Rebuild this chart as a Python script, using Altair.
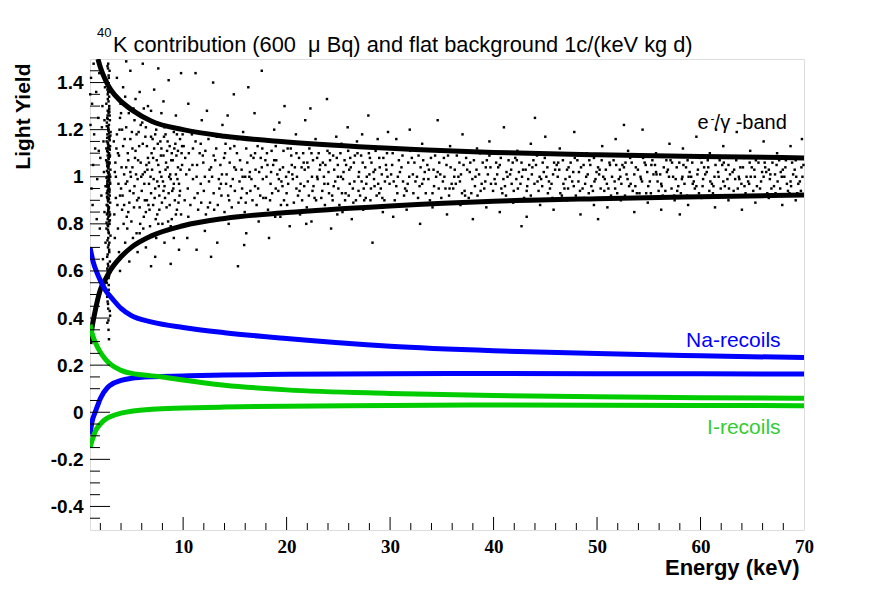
import altair as alt
import pandas as pd

# ---------------- band / recoil curves ----------------
eg_up_x = [1.77, 2, 2.5, 3, 4, 5, 7, 10, 14, 20, 30, 40, 50, 60, 70]
eg_up_y = [1.50, 1.465, 1.41, 1.37, 1.32, 1.285, 1.235, 1.200, 1.172, 1.148, 1.121, 1.103, 1.093, 1.086, 1.080]
eg_lo_x = [1.0, 1.2, 1.5, 2, 2.5, 3, 4, 5, 7, 10, 14, 20, 30, 40, 50, 60, 70]
eg_lo_y = [0.29, 0.36, 0.43, 0.52, 0.565, 0.605, 0.66, 0.70, 0.75, 0.792, 0.823, 0.848, 0.876, 0.896, 0.907, 0.915, 0.922]
na_up_x = [1.0, 1.3, 1.7, 2, 2.7, 3, 4, 5, 7, 10, 14, 20, 30, 40, 50, 60, 70]
na_up_y = [0.70, 0.64, 0.59, 0.56, 0.505, 0.49, 0.441, 0.41, 0.383, 0.360, 0.338, 0.313, 0.280, 0.261, 0.249, 0.240, 0.232]
na_lo_x = [1.0, 1.2, 1.5, 1.75, 2, 2.7, 3, 4, 5, 7, 10, 14, 20, 30, 40, 50, 60, 70]
na_lo_y = [-0.095, -0.04, 0.0, 0.03, 0.058, 0.105, 0.116, 0.135, 0.144, 0.151, 0.154, 0.158, 0.161, 0.164, 0.165, 0.164, 0.163, 0.162]
i_up_x = [1.0, 1.2, 1.5, 2, 2.5, 3, 4, 5, 6, 8, 10, 14, 20, 30, 40, 50, 60, 70]
i_up_y = [0.372, 0.335, 0.298, 0.255, 0.225, 0.203, 0.178, 0.165, 0.159, 0.150, 0.137, 0.115, 0.095, 0.080, 0.071, 0.066, 0.062, 0.059]
i_lo_x = [1.0, 1.2, 1.58, 2, 2.4, 3, 4, 5, 7, 10, 14, 20, 30, 40, 50, 60, 70]
i_lo_y = [-0.15, -0.12, -0.075, -0.05, -0.033, -0.018, -0.004, 0.004, 0.013, 0.018, 0.022, 0.026, 0.029, 0.031, 0.030, 0.029, 0.028]

curve_names = ["eg_up", "eg_lo", "na_up", "na_lo", "i_up", "i_lo"]
curve_colors = ["#000000", "#000000", "#0000ff", "#0000ff", "#00cc00", "#00cc00"]

# ---------------- scatter events ----------------
strip_pts = [
    (2.76, 1.48), (2.89, 1.45), (2.65, 1.41), (2.81, 1.38), (2.96, 1.36), (2.72, 1.33), (2.58, 1.31), (2.85, 1.29), (2.79, 1.27), (2.70, 1.26),
    (2.92, 1.24), (2.63, 1.23), (2.83, 1.22), (2.75, 1.21), (2.99, 1.19), (2.68, 1.18), (2.80, 1.17), (2.87, 1.16), (2.61, 1.15), (2.73, 1.14),
    (2.94, 1.13), (2.77, 1.12), (2.66, 1.11), (2.84, 1.10), (2.71, 1.09), (2.90, 1.085), (2.78, 1.08), (2.56, 1.07), (2.82, 1.06), (2.86, 1.055),
    (2.69, 1.05), (2.74, 1.04), (2.97, 1.03), (2.64, 1.025), (2.80, 1.02), (2.88, 1.01), (2.72, 1.00), (2.60, 0.995), (2.84, 0.99), (2.77, 0.98),
    (2.93, 0.975), (2.67, 0.97), (2.81, 0.96), (2.74, 0.955), (2.85, 0.95), (2.70, 0.94), (2.62, 0.93), (2.91, 0.92), (2.79, 0.91), (2.73, 0.90),
    (2.95, 0.89), (2.68, 0.88), (2.83, 0.87), (2.76, 0.86), (2.87, 0.85), (2.64, 0.84), (2.78, 0.83), (2.71, 0.82), (2.89, 0.80), (2.75, 0.79),
    (2.59, 0.78), (2.82, 0.76), (2.98, 0.75), (2.69, 0.73), (2.80, 0.71), (2.74, 0.70), (2.86, 0.68), (2.66, 0.66), (2.92, 0.64), (2.77, 0.62),
    (2.72, 0.60), (2.84, 0.58), (2.63, 0.55), (2.81, 0.52), (2.88, 0.50), (2.70, 0.47), (2.76, 0.44), (2.94, 0.41), (2.68, 0.38), (2.79, 0.35),
    (2.83, 0.31), (2.75, 1.02), (2.67, 0.98), (2.90, 1.06), (2.73, 0.94), (2.86, 1.12), (2.61, 0.88), (2.78, 1.20), (2.94, 0.84), (2.70, 1.00),
    (2.80, 1.43), (2.71, 1.35), (2.86, 1.30), (2.66, 1.25), (2.78, 1.195), (2.90, 1.155), (2.74, 1.125), (2.83, 1.095), (2.69, 1.065), (2.77, 1.035),
    (2.85, 1.005), (2.72, 0.985), (2.79, 0.965), (2.88, 0.935), (2.65, 0.915), (2.76, 0.895), (2.82, 0.865), (2.70, 0.845), (2.92, 0.815), (2.74, 0.775),
    (2.84, 1.285), (2.62, 1.215), (2.97, 1.175), (2.73, 1.145), (2.81, 1.075), (2.67, 1.045), (2.89, 0.945), (2.78, 0.925), (2.75, 0.855), (2.60, 0.805),
    (2.87, 0.72), (2.71, 0.67), (2.80, 0.57), (2.66, 0.49), (2.91, 0.43), (2.77, 1.39), (2.69, 1.47), (2.85, 1.34), (2.73, 0.63), (2.95, 0.97),
    (2.74, 1.46), (2.82, 1.42), (2.68, 1.37), (2.79, 1.32), (2.87, 1.275), (2.71, 1.245), (2.76, 1.205), (2.84, 1.185), (2.66, 1.165), (2.78, 1.135),
    (2.91, 1.115), (2.72, 1.105), (2.80, 1.045), (2.75, 1.015), (2.86, 0.985), (2.69, 0.96), (2.77, 0.945), (2.83, 0.905), (2.73, 0.875), (2.88, 0.835),
    (2.70, 0.795), (2.79, 0.765), (2.76, 0.74), (2.85, 0.69), (2.67, 0.61), (2.81, 0.54), (2.74, 0.46), (2.78, 0.39), (2.90, 1.26), (2.64, 1.06),
    (2.93, 1.09), (2.62, 0.96), (2.89, 1.17), (2.71, 1.28), (2.80, 0.87), (2.96, 1.00), (2.58, 1.12), (2.75, 1.36), (2.83, 0.81), (2.68, 0.91),
]
lowE_pts = [
    (1.10, 1.42), (1.20, 1.31), (1.05, 1.22), (1.30, 1.05), (1.15, 0.95), (1.40, 1.18), (1.25, 0.88), (1.60, 1.36), (1.50, 1.12), (1.80, 1.25),
    (1.70, 0.99), (1.90, 1.44), (2.00, 1.08), (2.10, 0.92), (2.20, 1.30), (2.30, 1.15), (2.40, 0.85), (2.45, 1.38), (2.35, 1.02), (2.15, 1.21),
    (1.95, 0.78), (2.50, 0.72), (2.25, 0.65), (1.35, 1.48), (1.65, 0.82), (2.05, 1.47), (2.40, 1.24), (2.50, 0.96), (1.02, 1.35), (1.85, 1.11),
]
midE_pts = [
    (3.4, 1.02), (3.5, 0.91), (3.6, 1.18), (3.7, 0.78), (3.8, 1.09), (3.9, 1.25), (4.0, 0.95), (4.1, 0.86), (4.2, 1.13), (4.3, 1.01),
    (4.4, 0.72), (4.5, 1.21), (4.6, 0.98), (4.7, 1.07), (4.8, 0.89), (4.9, 1.16), (5.0, 0.81), (5.1, 1.04), (5.2, 0.93), (5.3, 1.24),
    (5.4, 1.11), (5.5, 0.76), (5.6, 0.99), (5.7, 1.19), (5.8, 0.87), (5.9, 1.06), (6.0, 0.94), (6.1, 1.14), (6.2, 0.83), (6.3, 1.02),
    (6.4, 1.21), (6.5, 0.90), (6.6, 1.08), (6.7, 0.97), (6.8, 0.79), (6.9, 1.17), (7.0, 1.03), (7.1, 0.88), (7.2, 1.12), (7.3, 0.95),
    (7.4, 1.20), (7.5, 0.84), (7.6, 1.05), (7.7, 0.92), (7.8, 1.15), (7.9, 1.00), (8.0, 0.80), (8.1, 1.09), (8.2, 0.96), (8.3, 1.18),
    (8.4, 0.87), (8.5, 1.04), (8.6, 0.93), (8.7, 1.13), (8.8, 0.99), (8.9, 0.82), (9.0, 1.07), (9.1, 1.19), (9.2, 0.90), (9.3, 1.01),
    (9.4, 0.86), (9.5, 1.11), (9.6, 0.97), (9.7, 1.16), (9.8, 0.84), (9.9, 1.05),
    (3.35, 0.84), (3.55, 1.12), (3.75, 0.97), (3.95, 1.31), (4.15, 0.92), (4.35, 1.16), (4.55, 0.83), (4.75, 1.27), (4.95, 1.00), (5.15, 0.74),
    (5.35, 1.08), (5.55, 0.90), (5.75, 1.13), (5.95, 1.00), (6.15, 0.78), (6.35, 1.17), (6.55, 1.03), (6.75, 0.86), (6.95, 1.10), (7.15, 0.99),
    (7.35, 0.82), (7.55, 1.14), (7.75, 1.02), (7.95, 0.89), (8.15, 1.17), (8.35, 1.06), (8.55, 0.81), (8.75, 1.01), (8.95, 0.94), (9.15, 1.12),
    (9.35, 1.09), (9.55, 0.89), (9.75, 1.03), (9.95, 1.18),
    (3.45, 1.06), (3.65, 0.88), (3.85, 1.20), (4.05, 1.04), (4.25, 0.80), (4.45, 0.97), (4.65, 1.10), (4.85, 0.94), (5.05, 1.19), (5.25, 0.87),
    (5.45, 1.01), (5.65, 1.07), (5.85, 0.80), (6.05, 1.23), (6.25, 0.97), (6.45, 1.05), (6.65, 0.88), (6.85, 1.00), (7.05, 1.16), (7.25, 0.91),
    (7.45, 1.07), (7.65, 0.96), (7.85, 1.09), (8.05, 0.98), (8.25, 0.91), (8.45, 1.11), (8.65, 1.00), (8.85, 1.07), (9.05, 0.95), (9.25, 1.14),
    (9.45, 0.99), (9.65, 0.92), (9.85, 1.10),
    (3.3, 1.15), (3.5, 1.00), (3.7, 1.10), (3.9, 0.92), (4.1, 1.20), (4.3, 0.88), (4.5, 1.04), (4.7, 0.85), (4.9, 1.02), (5.1, 1.12),
    (5.3, 0.96), (5.5, 1.18), (5.7, 0.91), (5.9, 1.22), (6.1, 1.01), (6.3, 0.90), (6.5, 1.13), (6.7, 1.06), (6.9, 0.93), (7.1, 1.08),
    (7.3, 1.18), (7.5, 0.98), (7.7, 0.86), (7.9, 1.12), (8.1, 0.94), (8.3, 1.03), (8.5, 1.15), (8.7, 0.88), (8.9, 1.10), (9.1, 0.97),
    (9.3, 0.84), (9.5, 1.04), (9.7, 0.94), (9.9, 1.13), (3.4, 0.74), (4.0, 1.27), (4.6, 0.78), (5.2, 1.29), (5.8, 0.76), (6.4, 0.85),
    (7.0, 1.24), (7.6, 0.80), (8.2, 1.21), (8.8, 0.79), (9.4, 1.18), (3.8, 0.68), (4.4, 1.34), (5.0, 0.70), (6.2, 1.29), (7.4, 0.74),
    (3.6, 1.42), (4.2, 1.38), (4.9, 1.45), (5.4, 1.33), (6.1, 1.48), (6.6, 1.30), (7.2, 1.37), (7.9, 1.27), (8.6, 1.41), (9.3, 1.26),
    (5.8, 1.36), (8.1, 1.32), (9.8, 1.44), (4.5, 1.49), (7.6, 1.46), (6.9, 1.28),
    (4.8, 0.64), (5.6, 0.68), (6.4, 0.70), (7.3, 0.66), (8.2, 0.72), (9.1, 0.74), (9.6, 0.69), (6.9, 0.62), (3.9, 0.60), (8.8, 0.63),
]
band1_pts = [
    (10.2, 1.08), (10.7, 0.88), (11.2, 1.15), (11.7, 0.97), (12.2, 0.84), (12.7, 1.04), (13.2, 1.12), (13.7, 0.92), (14.2, 1.01), (14.7, 0.87),
    (15.2, 1.10), (15.7, 0.95), (16.2, 1.06), (16.7, 0.90), (17.2, 1.13), (17.7, 0.99), (18.2, 0.86), (18.7, 1.05), (19.2, 0.94), (19.7, 1.11),
    (20.2, 1.02), (20.7, 0.89), (21.2, 1.08), (21.7, 0.96), (22.2, 1.12), (22.7, 0.91), (23.2, 1.03), (23.7, 0.88), (24.2, 1.07), (24.7, 0.98),
    (25.2, 1.10), (25.7, 0.93), (26.2, 1.04), (26.7, 0.90), (27.2, 1.09), (27.7, 0.97), (28.2, 1.06), (28.7, 0.92), (29.2, 1.01), (29.7, 1.10),
    (10.45, 0.95), (10.95, 1.12), (11.45, 0.86), (11.95, 1.06), (12.45, 1.16), (12.95, 0.93), (13.45, 0.99), (13.95, 1.08), (14.45, 0.90), (14.95, 1.13),
    (15.45, 0.98), (15.95, 0.85), (16.45, 1.02), (16.95, 1.10), (17.45, 0.92), (17.95, 1.07), (18.45, 0.97), (18.95, 1.13), (19.45, 0.88), (19.95, 1.00),
    (20.45, 1.09), (20.95, 0.95), (21.45, 1.04), (21.95, 0.87), (22.45, 1.00), (22.95, 1.08), (23.45, 0.94), (23.95, 1.11), (24.45, 0.90), (24.95, 1.05),
    (25.45, 0.99), (25.95, 1.11), (26.45, 0.89), (26.95, 1.00), (27.45, 0.95), (27.95, 1.10), (28.45, 0.99), (28.95, 1.08), (29.45, 0.90), (29.95, 0.97),
    (10.3, 1.01), (10.85, 1.18), (11.4, 0.93), (11.9, 1.09), (12.5, 0.98), (13.0, 0.86), (13.6, 1.05), (14.1, 1.14), (14.6, 0.96), (15.1, 1.03),
    (15.6, 0.91), (16.1, 1.12), (16.6, 0.99), (17.1, 0.88), (17.6, 1.04), (18.1, 1.10), (18.6, 0.93), (19.1, 1.01), (19.6, 0.96), (20.1, 1.12),
    (20.6, 0.99), (21.1, 0.92), (21.6, 1.10), (22.1, 1.04), (22.6, 0.96), (23.1, 1.10), (23.6, 1.00), (24.1, 0.93), (24.6, 1.03), (25.1, 0.88),
    (25.6, 1.07), (26.1, 0.97), (26.6, 1.09), (27.1, 0.92), (27.6, 1.04), (28.1, 0.90), (28.6, 1.11), (29.1, 0.95), (29.6, 1.05),
    (10.6, 1.03), (11.1, 0.91), (11.6, 1.10), (12.1, 1.00), (12.6, 0.89), (13.1, 1.07), (13.5, 0.95), (14.0, 0.85), (14.5, 1.06), (15.0, 0.94),
    (15.5, 1.07), (16.0, 1.00), (16.5, 0.94), (17.0, 1.03), (17.5, 1.08), (18.0, 0.91), (18.5, 1.02), (19.0, 1.07), (19.5, 0.98), (20.0, 0.93),
    (20.5, 1.05), (21.0, 1.00), (21.5, 0.90), (22.0, 1.06), (22.5, 0.94), (23.0, 0.99), (23.5, 1.06), (24.0, 0.97), (24.5, 1.09), (25.0, 0.95),
    (25.5, 1.02), (26.0, 0.92), (26.5, 1.06), (27.0, 1.02), (27.5, 0.90), (28.0, 1.01), (28.5, 0.96), (29.0, 1.04), (29.5, 0.98),
    (10.15, 0.90), (10.55, 1.10), (10.95, 0.99), (11.35, 1.05), (11.75, 0.89), (12.15, 1.11), (12.55, 1.03), (12.95, 1.09), (13.35, 0.88), (13.75, 1.01),
    (14.15, 0.97), (14.55, 1.12), (14.95, 1.04), (15.35, 0.89), (15.75, 1.00), (16.15, 0.93), (16.55, 1.09), (16.95, 0.96), (17.35, 1.02), (17.75, 0.91),
    (18.15, 1.05), (18.55, 1.11), (18.95, 0.95), (19.35, 1.03), (19.75, 0.90), (20.15, 0.97), (20.55, 1.01), (20.95, 1.10), (21.35, 0.97), (21.75, 1.03),
    (22.15, 0.92), (22.55, 1.07), (22.95, 1.00), (23.35, 0.91), (23.75, 1.05), (24.15, 1.10), (24.55, 0.96), (24.95, 1.00), (25.35, 0.93), (25.75, 1.05),
    (26.15, 1.08), (26.55, 0.98), (26.95, 0.94), (27.35, 1.06), (27.75, 1.00), (28.15, 0.95), (28.55, 1.03), (28.95, 0.93), (29.35, 1.08), (29.75, 1.00),
    (10.05, 1.13), (10.5, 0.83), (10.9, 1.05), (11.3, 1.00), (11.7, 1.14), (12.0, 0.94), (12.4, 0.87), (12.8, 1.00), (13.25, 1.17), (13.65, 0.97),
    (14.05, 1.10), (14.35, 0.92), (14.8, 0.99), (15.25, 1.16), (15.65, 1.03), (16.05, 0.89), (16.4, 1.00), (16.8, 1.08), (17.25, 0.95), (17.65, 1.12),
    (18.05, 1.00), (18.4, 0.90), (18.8, 1.07), (19.25, 0.99), (19.65, 1.04), (20.05, 0.88), (20.4, 1.12), (20.8, 1.04), (21.25, 0.94), (21.65, 1.06),
    (22.05, 0.98), (22.4, 1.10), (22.85, 0.90), (23.25, 1.05), (23.65, 0.97), (24.05, 1.02), (24.4, 0.92), (24.85, 1.08), (25.25, 1.00), (25.65, 0.90),
    (26.05, 1.03), (26.4, 0.95), (26.85, 1.10), (27.25, 0.98), (27.65, 0.91), (28.05, 1.08), (28.4, 1.02), (28.85, 0.97), (29.25, 0.91), (29.65, 1.03),
    (10.5, 1.31), (11.8, 1.24), (12.9, 1.40), (13.8, 1.22), (14.9, 1.35), (15.8, 1.19), (16.9, 1.27), (17.6, 1.45), (18.8, 1.20), (19.8, 1.30),
    (20.9, 1.18), (21.8, 1.24), (22.8, 1.16), (23.9, 1.33), (24.8, 1.17), (25.9, 1.21), (26.8, 1.15), (27.9, 1.26), (28.8, 1.16), (29.8, 1.19),
    (12.3, 1.28), (16.3, 1.38), (11.2, 1.44), (14.3, 1.26), (19.3, 1.23), (22.3, 1.29), (25.3, 1.14), (27.3, 1.18),
    (10.4, 0.74), (11.3, 0.69), (12.1, 0.77), (13.3, 0.72), (14.4, 0.80), (15.3, 0.62), (16.1, 0.76), (17.3, 0.81), (18.3, 0.74), (19.4, 0.83),
    (20.3, 0.79), (21.3, 0.84), (22.4, 0.81), (23.4, 0.86), (24.3, 0.78), (25.4, 0.85), (26.3, 0.82), (27.4, 0.86), (28.3, 0.72), (29.3, 0.85),
    (12.7, 0.66), (15.9, 0.71), (18.9, 0.83), (21.9, 0.80), (24.9, 0.84),
]
band2_pts = [
    (30.2, 1.05), (30.7, 0.93), (31.2, 1.09), (31.7, 0.97), (32.2, 1.01), (32.7, 0.91), (33.2, 1.07), (33.7, 0.99), (34.2, 1.03), (34.7, 0.95),
    (35.2, 1.08), (35.7, 0.92), (36.2, 1.00), (36.7, 1.06), (37.2, 0.94), (37.7, 1.02), (38.2, 0.96), (38.7, 1.10), (39.2, 0.98), (39.7, 1.04),
    (40.2, 0.97), (40.7, 1.08), (41.2, 0.92), (41.7, 1.03), (42.2, 0.99), (42.7, 1.06), (43.2, 0.94), (43.7, 1.01), (44.2, 1.09), (44.7, 0.96),
    (45.2, 1.04), (45.7, 0.91), (46.2, 1.00), (46.7, 1.07), (47.2, 0.95), (47.7, 1.02), (48.2, 0.98), (48.7, 1.05), (49.2, 0.93), (49.7, 1.08),
    (50.2, 1.01), (50.7, 0.94), (51.2, 1.06), (51.7, 0.98), (52.2, 1.03), (52.7, 0.92), (53.2, 1.08), (53.7, 0.96), (54.2, 1.00), (54.7, 1.05),
    (55.2, 0.93), (55.7, 1.02), (56.2, 0.97), (56.7, 1.07), (57.2, 0.95), (57.7, 1.04), (58.2, 0.99), (58.7, 0.92), (59.2, 1.06), (59.7, 1.01),
    (60.2, 0.96), (60.7, 1.07), (61.2, 0.93), (61.7, 1.02), (62.2, 0.98), (62.7, 1.05), (63.2, 0.94), (63.7, 1.00), (64.2, 1.08), (64.7, 0.97),
    (65.2, 1.03), (65.7, 0.92), (66.2, 1.06), (66.7, 0.99), (67.2, 1.01), (67.7, 0.95), (68.2, 1.04), (68.7, 0.98), (69.2, 1.07), (69.7, 0.94),
    (30.45, 0.90), (30.95, 1.02), (31.45, 0.95), (31.95, 1.11), (32.45, 0.98), (32.95, 1.04), (33.45, 0.93), (33.95, 1.08), (34.45, 1.00), (34.95, 0.91),
    (35.45, 1.05), (35.95, 0.97), (36.45, 1.09), (36.95, 0.93), (37.45, 1.03), (37.95, 0.99), (38.45, 0.92), (38.95, 1.06), (39.45, 1.01), (39.95, 0.94),
    (40.45, 1.04), (40.95, 0.99), (41.45, 1.07), (41.95, 0.94), (42.45, 1.02), (42.95, 0.91), (43.45, 1.05), (43.95, 0.97), (44.45, 1.00), (44.95, 1.08),
    (45.45, 0.95), (45.95, 1.03), (46.45, 0.93), (46.95, 0.99), (47.45, 1.06), (47.95, 0.92), (48.45, 1.04), (48.95, 1.00), (49.45, 0.96), (49.95, 1.02),
    (50.45, 1.07), (50.95, 0.97), (51.45, 1.00), (51.95, 0.93), (52.45, 1.05), (52.95, 0.99), (53.45, 0.94), (53.95, 1.03), (54.45, 1.08), (54.95, 0.96),
    (55.45, 1.01), (55.95, 0.94), (56.45, 1.04), (56.95, 1.00), (57.45, 0.92), (57.95, 1.06), (58.45, 0.97), (58.95, 1.02), (59.45, 0.95), (59.95, 1.08),
    (60.45, 1.01), (60.95, 0.98), (61.45, 1.05), (61.95, 0.95), (62.45, 1.03), (62.95, 0.92), (63.45, 1.07), (63.95, 0.97), (64.45, 1.00), (64.95, 1.04),
    (65.45, 0.96), (65.95, 1.02), (66.45, 0.93), (66.95, 1.06), (67.45, 0.98), (67.95, 1.03), (68.45, 0.94), (68.95, 1.01), (69.45, 0.97), (69.95, 1.05),
    (30.1, 1.01), (30.6, 0.96), (31.1, 1.04), (31.6, 0.94), (32.1, 1.08), (32.6, 1.00), (33.1, 0.97), (33.6, 1.05), (34.1, 0.93), (34.6, 1.02),
    (35.1, 0.98), (35.6, 1.09), (36.1, 0.95), (36.6, 1.00), (37.1, 1.05), (37.6, 0.91), (38.1, 1.07), (38.6, 1.01), (39.1, 0.95), (39.6, 1.09),
    (40.1, 0.99), (40.6, 1.05), (41.1, 0.96), (41.6, 1.01), (42.1, 1.08), (42.6, 0.97), (43.1, 1.03), (43.6, 0.92), (44.1, 1.05), (44.6, 0.99),
]
band3_pts = [
    (30.35, 0.98), (30.85, 1.07), (31.35, 0.92), (31.85, 1.00), (32.35, 1.06), (32.85, 0.96), (33.35, 1.02), (33.85, 0.90), (34.35, 1.09), (34.85, 1.01),
    (35.35, 0.95), (35.85, 1.04), (36.35, 0.97), (36.85, 1.01), (37.35, 1.08), (37.85, 0.93), (38.35, 1.03), (38.85, 0.97), (39.35, 1.07), (39.85, 0.90),
    (40.35, 1.01), (40.85, 0.93), (41.35, 1.00), (41.85, 1.06), (42.35, 0.95), (42.85, 1.03), (43.35, 0.99), (43.85, 1.07), (44.35, 0.94), (44.85, 1.02),
    (45.35, 0.98), (45.85, 1.06), (46.35, 1.03), (46.85, 0.95), (47.35, 1.00), (47.85, 1.08), (48.35, 0.94), (48.85, 0.97), (49.35, 1.05), (49.85, 0.99),
    (50.35, 0.95), (50.85, 1.03), (51.35, 0.92), (51.85, 1.05), (52.35, 0.97), (52.85, 1.01), (53.35, 1.06), (53.85, 0.93), (54.35, 0.98), (54.85, 1.02),
    (55.35, 1.07), (55.85, 0.98), (56.35, 0.92), (56.85, 1.03), (57.35, 1.00), (57.85, 0.96), (58.35, 1.05), (58.85, 1.00), (59.35, 0.98), (59.85, 0.93),
    (60.35, 1.04), (60.85, 0.94), (61.35, 1.00), (61.85, 1.07), (62.35, 0.96), (62.85, 1.01), (63.35, 0.99), (63.85, 1.04), (64.35, 0.93), (64.85, 1.00),
    (65.35, 1.07), (65.85, 0.98), (66.35, 1.02), (66.85, 0.95), (67.35, 1.05), (67.85, 1.00), (68.35, 0.97), (68.85, 1.06), (69.35, 0.93), (69.85, 1.00),
    (45.1, 1.00), (45.6, 0.97), (46.1, 1.05), (46.6, 0.92), (47.1, 1.03), (47.6, 0.98), (48.1, 1.07), (48.6, 0.95), (49.1, 1.01), (49.6, 0.94),
    (50.1, 1.04), (50.6, 1.00), (51.1, 0.95), (51.6, 1.07), (52.1, 0.99), (52.6, 1.04), (53.1, 0.96), (53.6, 1.01), (54.1, 0.93), (54.6, 1.06),
    (55.1, 0.98), (55.6, 1.05), (56.1, 1.01), (56.6, 0.94), (57.1, 1.07), (57.6, 0.99), (58.1, 0.93), (58.6, 1.04), (59.1, 1.00), (59.6, 0.96),
    (60.1, 1.06), (60.6, 1.02), (61.1, 0.97), (61.6, 0.92), (62.1, 1.05), (62.6, 0.99), (63.1, 1.02), (63.6, 0.95), (64.1, 1.04), (64.6, 0.98),
    (65.1, 0.94), (65.6, 1.06), (66.1, 1.00), (66.6, 1.03), (67.1, 0.96), (67.6, 1.07), (68.1, 1.00), (68.6, 0.93), (69.1, 1.03), (69.6, 0.98),
    (30.25, 1.10), (30.75, 1.00), (31.25, 0.98), (31.75, 1.06), (32.25, 0.93), (32.75, 1.09), (33.25, 0.99), (33.75, 1.03), (34.25, 0.96), (34.75, 1.06),
    (35.25, 1.00), (35.75, 0.95), (36.25, 1.03), (36.75, 0.98), (37.25, 0.92), (37.75, 1.06), (38.25, 1.00), (38.75, 0.94), (39.25, 1.04), (39.75, 0.97),
    (40.25, 1.06), (40.75, 0.95), (41.25, 1.02), (41.75, 0.97), (42.25, 1.07), (42.75, 1.00), (43.25, 0.96), (43.75, 1.04), (44.25, 0.98), (44.75, 1.06),
    (45.25, 0.93), (45.75, 1.01), (46.25, 1.06), (46.75, 0.97), (47.25, 1.04), (47.75, 0.96), (48.25, 1.02), (48.75, 0.91), (49.25, 1.07), (49.75, 0.98),
    (50.25, 1.03), (50.75, 0.99), (51.25, 1.05), (51.75, 0.95), (52.25, 1.00), (52.75, 1.06), (53.25, 0.97), (53.75, 1.04), (54.25, 0.99), (54.75, 0.93),
    (55.25, 1.05), (55.75, 1.01), (56.25, 0.96), (56.75, 1.02), (57.25, 1.06), (57.75, 0.94), (58.25, 1.00), (58.75, 1.07), (59.25, 0.97), (59.75, 1.03),
    (60.25, 0.99), (60.75, 1.04), (61.25, 0.96), (61.75, 1.00), (62.25, 1.06), (62.75, 0.95), (63.25, 1.03), (63.75, 0.99), (64.25, 0.96), (64.75, 1.06),
    (65.25, 1.00), (65.75, 0.95), (66.25, 1.04), (66.75, 1.01), (67.25, 0.93), (67.75, 1.02), (68.25, 1.07), (68.75, 0.96), (69.25, 1.00), (69.75, 1.04),
    (30.6, 1.16), (31.9, 1.20), (33.1, 1.14), (34.6, 1.24), (35.8, 1.13), (37.0, 1.18), (38.4, 1.12), (39.6, 1.15), (41.0, 1.21), (42.3, 1.11),
    (43.6, 1.14), (45.0, 1.17), (46.4, 1.12), (47.8, 1.19), (49.0, 1.10), (50.5, 1.13), (51.8, 1.16), (53.0, 1.11), (54.4, 1.20), (55.7, 1.10),
    (57.0, 1.14), (58.3, 1.12), (59.6, 1.17), (60.9, 1.10), (62.2, 1.13), (63.5, 1.19), (64.8, 1.11), (66.1, 1.15), (67.4, 1.10), (68.7, 1.13),
    (69.8, 1.16), (44.0, 1.25), (52.6, 1.22), (61.5, 1.20),
    (30.3, 0.83), (31.6, 0.86), (32.9, 0.80), (34.1, 0.87), (35.5, 0.84), (36.8, 0.88), (38.0, 0.82), (39.3, 0.87), (40.6, 0.85), (41.9, 0.89),
    (43.2, 0.83), (44.5, 0.88), (45.8, 0.86), (47.1, 0.90), (48.4, 0.84), (49.7, 0.88), (51.0, 0.87), (52.3, 0.90), (53.6, 0.85), (54.9, 0.89),
    (56.2, 0.86), (57.5, 0.90), (58.8, 0.88), (60.1, 0.91), (61.4, 0.87), (62.7, 0.90), (64.0, 0.86), (65.3, 0.89), (66.6, 0.91), (67.9, 0.88),
    (69.2, 0.90), (42.7, 0.79), (50.1, 0.82), (58.0, 0.84),
]

# ---------------- axes ----------------
x_labels = [10, 20, 30, 40, 50, 60, 70]
x_major_ticks = [10, 20, 30, 40, 50, 60]
x_minor_ticks = [2, 4, 6, 8, 12, 14, 16, 18, 22, 24, 26, 28, 32, 34, 36, 38, 42, 44, 46, 48,
                 52, 54, 56, 58, 62, 64, 66, 68]
y_labels = [-0.4, -0.2, 0, 0.2, 0.4, 0.6, 0.8, 1, 1.2, 1.4]
y_minor_ticks = [-0.45, -0.35, -0.3, -0.25, -0.15, -0.1, -0.05, 0.05, 0.1, 0.15, 0.25, 0.3, 0.35,
                 0.45, 0.5, 0.55, 0.65, 0.7, 0.75, 0.85, 0.9, 0.95, 1.05, 1.1, 1.15, 1.25, 1.3, 1.35, 1.45]

# ---------------- tables ----------------
all_pts = strip_pts + lowE_pts + midE_pts + band1_pts + band2_pts + band3_pts
df_pts = pd.DataFrame(all_pts, columns=["E", "LY"])

rows = []
for name, xs, ys in [("eg_up", eg_up_x, eg_up_y), ("eg_lo", eg_lo_x, eg_lo_y),
                     ("na_up", na_up_x, na_up_y), ("na_lo", na_lo_x, na_lo_y),
                     ("i_up", i_up_x, i_up_y), ("i_lo", i_lo_x, i_lo_y)]:
    for i, (a, b) in enumerate(zip(xs, ys)):
        rows.append({"curve": name, "E": a, "LY": b, "i": i})
df_lines = pd.DataFrame(rows)

XS = alt.Scale(domain=[1, 70], nice=False, zero=False)
YS = alt.Scale(domain=[-0.5, 1.5], nice=False, zero=False)
W, H = 714, 471

x_axis = alt.Axis(values=x_labels, ticks=False, tickSize=0, domain=False, grid=False,
                  labelFont="Liberation Serif", labelFontWeight="bold", labelFontSize=19,
                  labelColor="black", labelPadding=7, labelFlush=False, labelOverlap=False,
                  title="Energy (keV)", titleFont="Liberation Sans", titleFontWeight="bold",
                  titleFontSize=22, titleColor="black", titleAnchor="end", titleAlign="right",
                  titleBaseline="alphabetic", titleX=709, titleY=44)
y_axis = alt.Axis(values=y_labels, ticks=False, tickSize=0, domain=False, grid=False,
                  labelExpr="'' + datum.value",
                  labelFont="Liberation Sans", labelFontWeight="bold", labelFontSize=19,
                  labelColor="black", labelPadding=7, labelFlush=False, labelOverlap=False,
                  title="Light Yield", titleFont="Liberation Sans", titleFontWeight="bold",
                  titleFontSize=21, titleColor="black", titleAngle=270, titleAlign="right",
                  titleBaseline="middle", titleX=-67, titleY=4)


def xenc(field):
    return alt.X(field, scale=XS, axis=x_axis)


def yenc(field):
    return alt.Y(field, scale=YS, axis=y_axis)


scatter = alt.Chart(df_pts).mark_square(size=6, color="black", opacity=1).encode(
    x=xenc("E:Q"), y=yenc("LY:Q"))

lines = alt.Chart(df_lines).mark_line(strokeWidth=5, interpolate="monotone", clip=True).encode(
    x=xenc("E:Q"), y=yenc("LY:Q"),
    color=alt.Color("curve:N", scale=alt.Scale(domain=curve_names, range=curve_colors), legend=None),
    order="i:Q",
)

xmaj = alt.Chart(pd.DataFrame({"E": x_major_ticks})).mark_rule(color="black", strokeWidth=1).encode(
    x=xenc("E:Q"), y=alt.value(H), y2=alt.value(H - 13))
xmin = alt.Chart(pd.DataFrame({"E": x_minor_ticks})).mark_rule(color="black", strokeWidth=1).encode(
    x=xenc("E:Q"), y=alt.value(H), y2=alt.value(H - 7))
ymaj = alt.Chart(pd.DataFrame({"LY": y_labels})).mark_rule(color="black", strokeWidth=1).encode(
    y=yenc("LY:Q"), x=alt.value(0), x2=alt.value(20))
ymin = alt.Chart(pd.DataFrame({"LY": y_minor_ticks})).mark_rule(color="black", strokeWidth=1).encode(
    y=yenc("LY:Q"), x=alt.value(0), x2=alt.value(10))


def label(txt, e, ly, color, size, align="left"):
    d = pd.DataFrame({"E": [e], "LY": [ly], "t": [txt]})
    return alt.Chart(d).mark_text(align=align, baseline="alphabetic", fontSize=size,
                                  font="Liberation Sans", color=color).encode(
        x=xenc("E:Q"), y=yenc("LY:Q"), text="t:N")


ann = [
    label("e", 59.71, 1.202, "black", 20),
    label("-", 60.97, 1.230, "black", 12),
    label("/\u03b3 -band", 61.36, 1.202, "black", 20),
    label("Na-recoils", 67.74, 0.278, "#0000ff", 21, "right"),
    label("I-recoils", 67.74, -0.092, "#33cc33", 21, "right"),
]


def ptext(txt, px, py, size):
    d = pd.DataFrame({"t": [txt]})
    return alt.Chart(d).mark_text(align="left", baseline="alphabetic", fontSize=size,
                                  font="Liberation Sans", color="black").encode(
        x=alt.value(px), y=alt.value(py), text="t:N")


title_sup = ptext("40", 7, -22, 13)
title_main = ptext("K contribution (600\u00a0 \u03bc\u00a0Bq) and flat background 1c/(keV kg d)", 23, -7, 21.8)

chart = alt.layer(scatter, lines, xmaj, xmin, ymaj, ymin, *ann, title_sup, title_main).properties(
    width=W, height=H,
    padding={"left": 82, "top": 51, "right": 60, "bottom": 50},
    autosize=alt.AutoSizeParams(type="none"),
    background="white",
).configure_view(stroke="black", strokeWidth=1).configure(font="Liberation Sans")

chart.save("out.html", embed_options={"renderer": "svg", "actions": False})
